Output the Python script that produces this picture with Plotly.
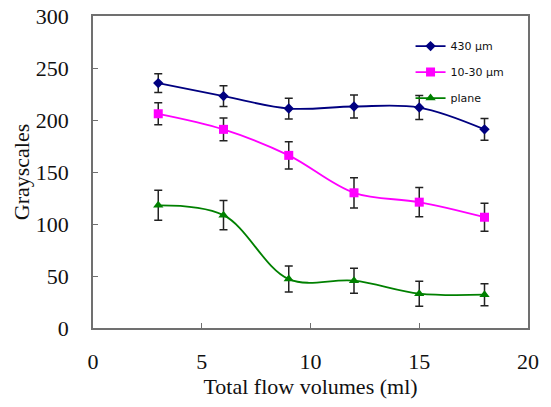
import plotly.graph_objects as go

volumes = [3, 6, 9, 12, 15, 18]
s430 = [235.5, 223, 211, 213, 212, 191]
s430_err = [9, 10, 10, 11, 11.5, 10.5]
s1030 = [206, 191, 166, 130, 121, 106.5]
s1030_err = [10.5, 11, 13, 14.5, 14, 13.5]
plane = [118, 108.5, 47, 45.5, 33, 32]
plane_err = [14.5, 14, 12.5, 12, 12, 10.5]

names = ["430 \u03bcm", "10-30 \u03bcm", "plane"]
colors = ["#000080", "#FF00FF", "#008000"]
symbols = ["diamond", "square", "triangle-up"]
sizes = [8, 9, 9]

fig = go.Figure()
for i, (ys, es) in enumerate([(s430, s430_err), (s1030, s1030_err), (plane, plane_err)]):
    fig.add_trace(go.Scatter(
        x=volumes, y=ys, name=names[i], mode="lines+markers",
        line=dict(color=colors[i], width=1.8, shape="spline", smoothing=1.0),
        marker=dict(color=colors[i], symbol=symbols[i], size=sizes[i]),
        error_y=dict(type="data", array=es, visible=True, color="#222222",
                     thickness=1.5, width=4),
        legendgroup=str(i),
    ))

font_main = dict(family="Liberation Serif", size=22, color="#111111")
axis_common = dict(
    showgrid=False, zeroline=False, showline=True, linecolor="#707070",
    linewidth=1.5, mirror=True, ticks="inside", ticklen=5, tickcolor="#707070",
    tickfont=font_main, automargin=False, ticklabeloverflow="allow",
)
fig.update_xaxes(range=[0, 20], dtick=5, ticklabelstandoff=13,
                 title=dict(text="Total flow volumes (ml)", standoff=0, font=font_main),
                 **axis_common)
fig.update_yaxes(range=[0, 300], dtick=50, ticklabelstandoff=18,
                 title=dict(text="Grayscales", standoff=0, font=font_main),
                 **axis_common)

fig.update_layout(
    width=551, height=407,
    margin=dict(l=93, r=23, t=16, b=79),
    plot_bgcolor="white", paper_bgcolor="white",
    legend=dict(x=0.73, y=0.95, xanchor="left", yanchor="top",
                font=dict(family="DejaVu Sans", size=11, color="#111111"),
                bgcolor="rgba(0,0,0,0)", tracegroupgap=7, itemwidth=30),
    showlegend=True,
)
fig.write_html("out.html", config={"displayModeBar": False},
               post_script="document.body.style.margin='0';document.body.style.overflow='hidden';")
